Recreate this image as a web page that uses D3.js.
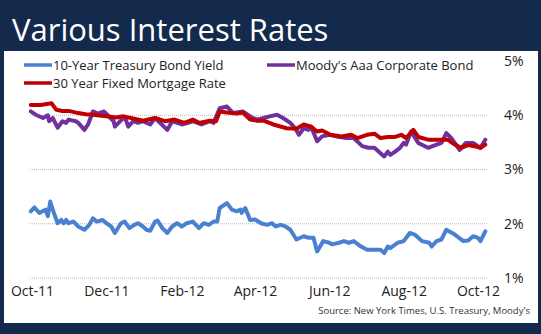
<!DOCTYPE html>
<html><head><meta charset="utf-8">
<script src="https://cdn.jsdelivr.net/npm/d3@7"></script>
<style>
html,body{margin:0;padding:0;background:#142a4c;}
svg{display:block;}
</style></head>
<body>
<script>
// ---- DATA ----
const title = "Various Interest Rates";
const source = "Source:  New York Times, U.S. Treasury, Moody's";
const seriesNames = ["10-Year Treasury Bond Yield", "Moody's Aaa Corporate Bond", "30 Year Fixed Mortgage Rate"];
const seriesColors = ["#4a80d2", "#7030a0", "#c00000"];
const xTickDates = ["2011-10-01","2011-12-01","2012-02-01","2012-04-01","2012-06-01","2012-08-01","2012-10-01"];
const xTickLabels = ["Oct-11","Dec-11","Feb-12","Apr-12","Jun-12","Aug-12","Oct-12"];
const yTicks = [1,2,3,4,5];

const treasuryDates = ["2011-09-30","2011-10-03","2011-10-07","2011-10-12","2011-10-14","2011-10-16","2011-10-18","2011-10-22","2011-10-25","2011-10-27","2011-10-29","2011-10-31","2011-11-04","2011-11-08","2011-11-13","2011-11-17","2011-11-20","2011-11-23","2011-11-28","2011-12-01","2011-12-05","2011-12-08","2011-12-13","2011-12-16","2011-12-20","2011-12-24","2011-12-27","2011-12-31","2012-01-03","2012-01-06","2012-01-10","2012-01-12","2012-01-16","2012-01-20","2012-01-24","2012-01-28","2012-02-01","2012-02-05","2012-02-10","2012-02-15","2012-02-19","2012-02-23","2012-02-27","2012-03-01","2012-03-03","2012-03-09","2012-03-13","2012-03-17","2012-03-20","2012-03-21","2012-03-24","2012-03-28","2012-04-01","2012-04-06","2012-04-11","2012-04-15","2012-04-18","2012-04-22","2012-04-26","2012-04-30","2012-05-05","2012-05-11","2012-05-15","2012-05-19","2012-05-22","2012-05-27","2012-06-01","2012-06-03","2012-06-09","2012-06-13","2012-06-17","2012-06-21","2012-06-27","2012-07-02","2012-07-06","2012-07-13","2012-07-16","2012-07-19","2012-07-21","2012-07-27","2012-08-01","2012-08-06","2012-08-10","2012-08-16","2012-08-22","2012-08-24","2012-08-28","2012-09-01","2012-09-05","2012-09-12","2012-09-19","2012-09-23","2012-09-27","2012-10-01","2012-10-03","2012-10-07"];
const treasuryValues = [2.23,2.30,2.20,2.26,2.14,2.41,2.26,2.01,2.07,2.01,2.07,2.01,2.04,1.95,1.89,1.98,2.10,2.04,2.07,2.01,1.95,1.83,2.01,2.04,1.92,1.98,2.01,1.95,1.89,1.87,2.04,2.06,1.92,1.83,1.95,2.01,1.95,2.01,2.04,1.92,2.01,1.98,2.04,2.04,2.29,2.38,2.26,2.23,2.26,2.20,2.29,2.07,2.08,2.01,1.98,2.01,1.95,1.98,1.95,1.89,1.71,1.77,1.74,1.74,1.49,1.68,1.65,1.62,1.65,1.68,1.65,1.68,1.58,1.52,1.52,1.52,1.46,1.58,1.55,1.65,1.68,1.83,1.80,1.68,1.65,1.58,1.68,1.71,1.89,1.80,1.68,1.69,1.77,1.74,1.68,1.86];

const moodysDates = ["2011-09-30","2011-10-04","2011-10-10","2011-10-14","2011-10-15","2011-10-18","2011-10-22","2011-10-26","2011-10-29","2011-10-31","2011-11-06","2011-11-08","2011-11-13","2011-11-16","2011-11-20","2011-11-24","2011-11-29","2011-12-07","2011-12-08","2011-12-15","2011-12-17","2011-12-19","2011-12-23","2011-12-27","2011-12-31","2012-01-06","2012-01-10","2012-01-20","2012-01-24","2012-02-01","2012-02-10","2012-02-17","2012-02-24","2012-02-27","2012-03-03","2012-03-09","2012-03-14","2012-03-22","2012-03-30","2012-04-03","2012-04-08","2012-04-13","2012-04-19","2012-04-24","2012-04-30","2012-05-04","2012-05-07","2012-05-11","2012-05-15","2012-05-17","2012-05-22","2012-05-26","2012-06-01","2012-06-07","2012-06-15","2012-06-21","2012-06-28","2012-07-03","2012-07-08","2012-07-13","2012-07-16","2012-07-19","2012-07-21","2012-07-25","2012-07-29","2012-08-01","2012-08-03","2012-08-07","2012-08-13","2012-08-21","2012-08-28","2012-09-01","2012-09-05","2012-09-09","2012-09-16","2012-09-21","2012-09-27","2012-10-03","2012-10-07"];
const moodysValues = [4.07,4.01,3.95,4.00,3.89,3.95,3.77,3.89,3.86,3.92,3.89,3.86,3.73,3.83,4.07,4.03,4.07,3.89,3.79,3.95,3.92,3.79,3.89,3.86,3.89,3.83,3.95,3.73,3.89,3.83,3.89,3.83,3.89,3.86,4.13,4.16,4.04,4.07,3.95,3.92,3.95,3.98,4.01,3.95,3.86,3.76,3.64,3.76,3.73,3.79,3.52,3.61,3.64,3.61,3.58,3.58,3.43,3.40,3.40,3.30,3.24,3.33,3.27,3.33,3.40,3.49,3.46,3.70,3.49,3.40,3.46,3.49,3.67,3.58,3.36,3.49,3.49,3.40,3.55];

const mortgageDates = ["2011-09-30","2011-10-08","2011-10-17","2011-10-21","2011-10-26","2011-10-31","2011-11-08","2011-11-14","2011-11-20","2011-12-01","2011-12-09","2011-12-15","2011-12-23","2011-12-31","2012-01-10","2012-01-18","2012-01-26","2012-02-03","2012-02-10","2012-02-15","2012-02-24","2012-02-29","2012-03-03","2012-03-09","2012-03-17","2012-03-22","2012-03-28","2012-04-03","2012-04-08","2012-04-16","2012-04-27","2012-05-05","2012-05-11","2012-05-17","2012-05-22","2012-05-26","2012-06-02","2012-06-11","2012-06-19","2012-06-24","2012-07-02","2012-07-08","2012-07-13","2012-07-19","2012-07-25","2012-07-30","2012-08-03","2012-08-09","2012-08-13","2012-08-21","2012-08-29","2012-09-06","2012-09-12","2012-09-17","2012-09-23","2012-09-28","2012-10-03","2012-10-07"];
const mortgageValues = [4.19,4.19,4.22,4.10,4.08,4.08,4.04,4.02,4.01,3.98,3.96,3.98,3.94,3.90,3.95,3.89,3.92,3.86,3.92,3.86,3.90,3.89,4.07,4.05,4.03,4.05,3.92,3.90,3.90,3.83,3.76,3.75,3.83,3.79,3.70,3.72,3.64,3.61,3.64,3.58,3.64,3.66,3.58,3.60,3.60,3.64,3.58,3.73,3.60,3.55,3.55,3.55,3.46,3.40,3.45,3.43,3.40,3.46];

// ---- CHART ----
const W = 541, H = 334;
const parse = d3.utcParse("%Y-%m-%d");
const svg = d3.select("body").append("svg").attr("width", W).attr("height", H);
svg.append("rect").attr("width", W).attr("height", H).attr("fill", "#142a4c");
svg.append("rect").attr("x", 4).attr("y", 51).attr("width", 534).attr("height", 272).attr("fill", "#ffffff");

svg.append("text").attr("x", 12).attr("y", 41).text(title)
  .attr("font-family", "'Open Sans', sans-serif").attr("font-size", 31).attr("fill", "#ffffff");

const x = d3.scaleUtc().domain([parse("2011-10-01"), parse("2012-10-01")]).range([32, 478]);
const y = d3.scaleLinear().domain([1, 5]).range([278, 61]);

// gridlines
svg.append("g").selectAll("line").data(yTicks.filter(t => t < 5)).join("line")
  .attr("x1", 30).attr("x2", 488).attr("y1", d => y(d)).attr("y2", d => y(d))
  .attr("stroke", "#b8b8b8").attr("stroke-width", 1).attr("stroke-dasharray", "1,1");

// y axis labels (right)
const yAxis = d3.axisRight(y).tickValues(yTicks).tickFormat(d => d + "%").tickSize(0).tickPadding(0);
const gy = svg.append("g").attr("transform", "translate(504,0)").call(yAxis);
gy.select(".domain").remove();
gy.selectAll("text").attr("font-family", "'Open Sans', sans-serif").attr("font-size", 14).attr("fill", "#222");

// x axis labels
const xAxis = d3.axisBottom(x).tickValues(xTickDates.map(parse)).tickFormat((d, i) => xTickLabels[i]).tickSize(0).tickPadding(0);
const gx = svg.append("g").attr("transform", "translate(0,286)").call(xAxis);
gx.select(".domain").remove();
gx.selectAll("text").attr("font-family", "'Open Sans', sans-serif").attr("font-size", 14).attr("fill", "#222");

// lines
const line = d3.line().x(d => x(d[0])).y(d => y(d[1])).curve(d3.curveLinear);
const series = [
  {dates: treasuryDates, vals: treasuryValues, color: seriesColors[0]},
  {dates: moodysDates, vals: moodysValues, color: seriesColors[1]},
  {dates: mortgageDates, vals: mortgageValues, color: seriesColors[2]}
];
series.forEach(s => {
  const pts = s.dates.map((d, i) => [parse(d), s.vals[i]]);
  svg.append("path").datum(pts).attr("d", line).attr("fill", "none")
    .attr("stroke", s.color).attr("stroke-width", 4).attr("stroke-linejoin", "round").attr("stroke-linecap", "round");
});

// legend
const legendPos = [[24, 65], [267, 65], [24, 83]];
seriesNames.forEach((name, i) => {
  const [lx, ly] = legendPos[i];
  svg.append("line").attr("x1", lx).attr("x2", lx + 28).attr("y1", ly).attr("y2", ly)
    .attr("stroke", seriesColors[i]).attr("stroke-width", 3.5);
  svg.append("text").attr("x", lx + 29).attr("y", ly).attr("dy", "0.35em").text(name)
    .attr("font-family", "'Open Sans', sans-serif").attr("font-size", 13).attr("fill", "#222");
});

// source
svg.append("text").attr("x", 530).attr("y", 314).attr("text-anchor", "end").text(source)
  .attr("font-family", "'Open Sans', sans-serif").attr("font-size", 9.5).attr("fill", "#333");
</script>
</body></html>
